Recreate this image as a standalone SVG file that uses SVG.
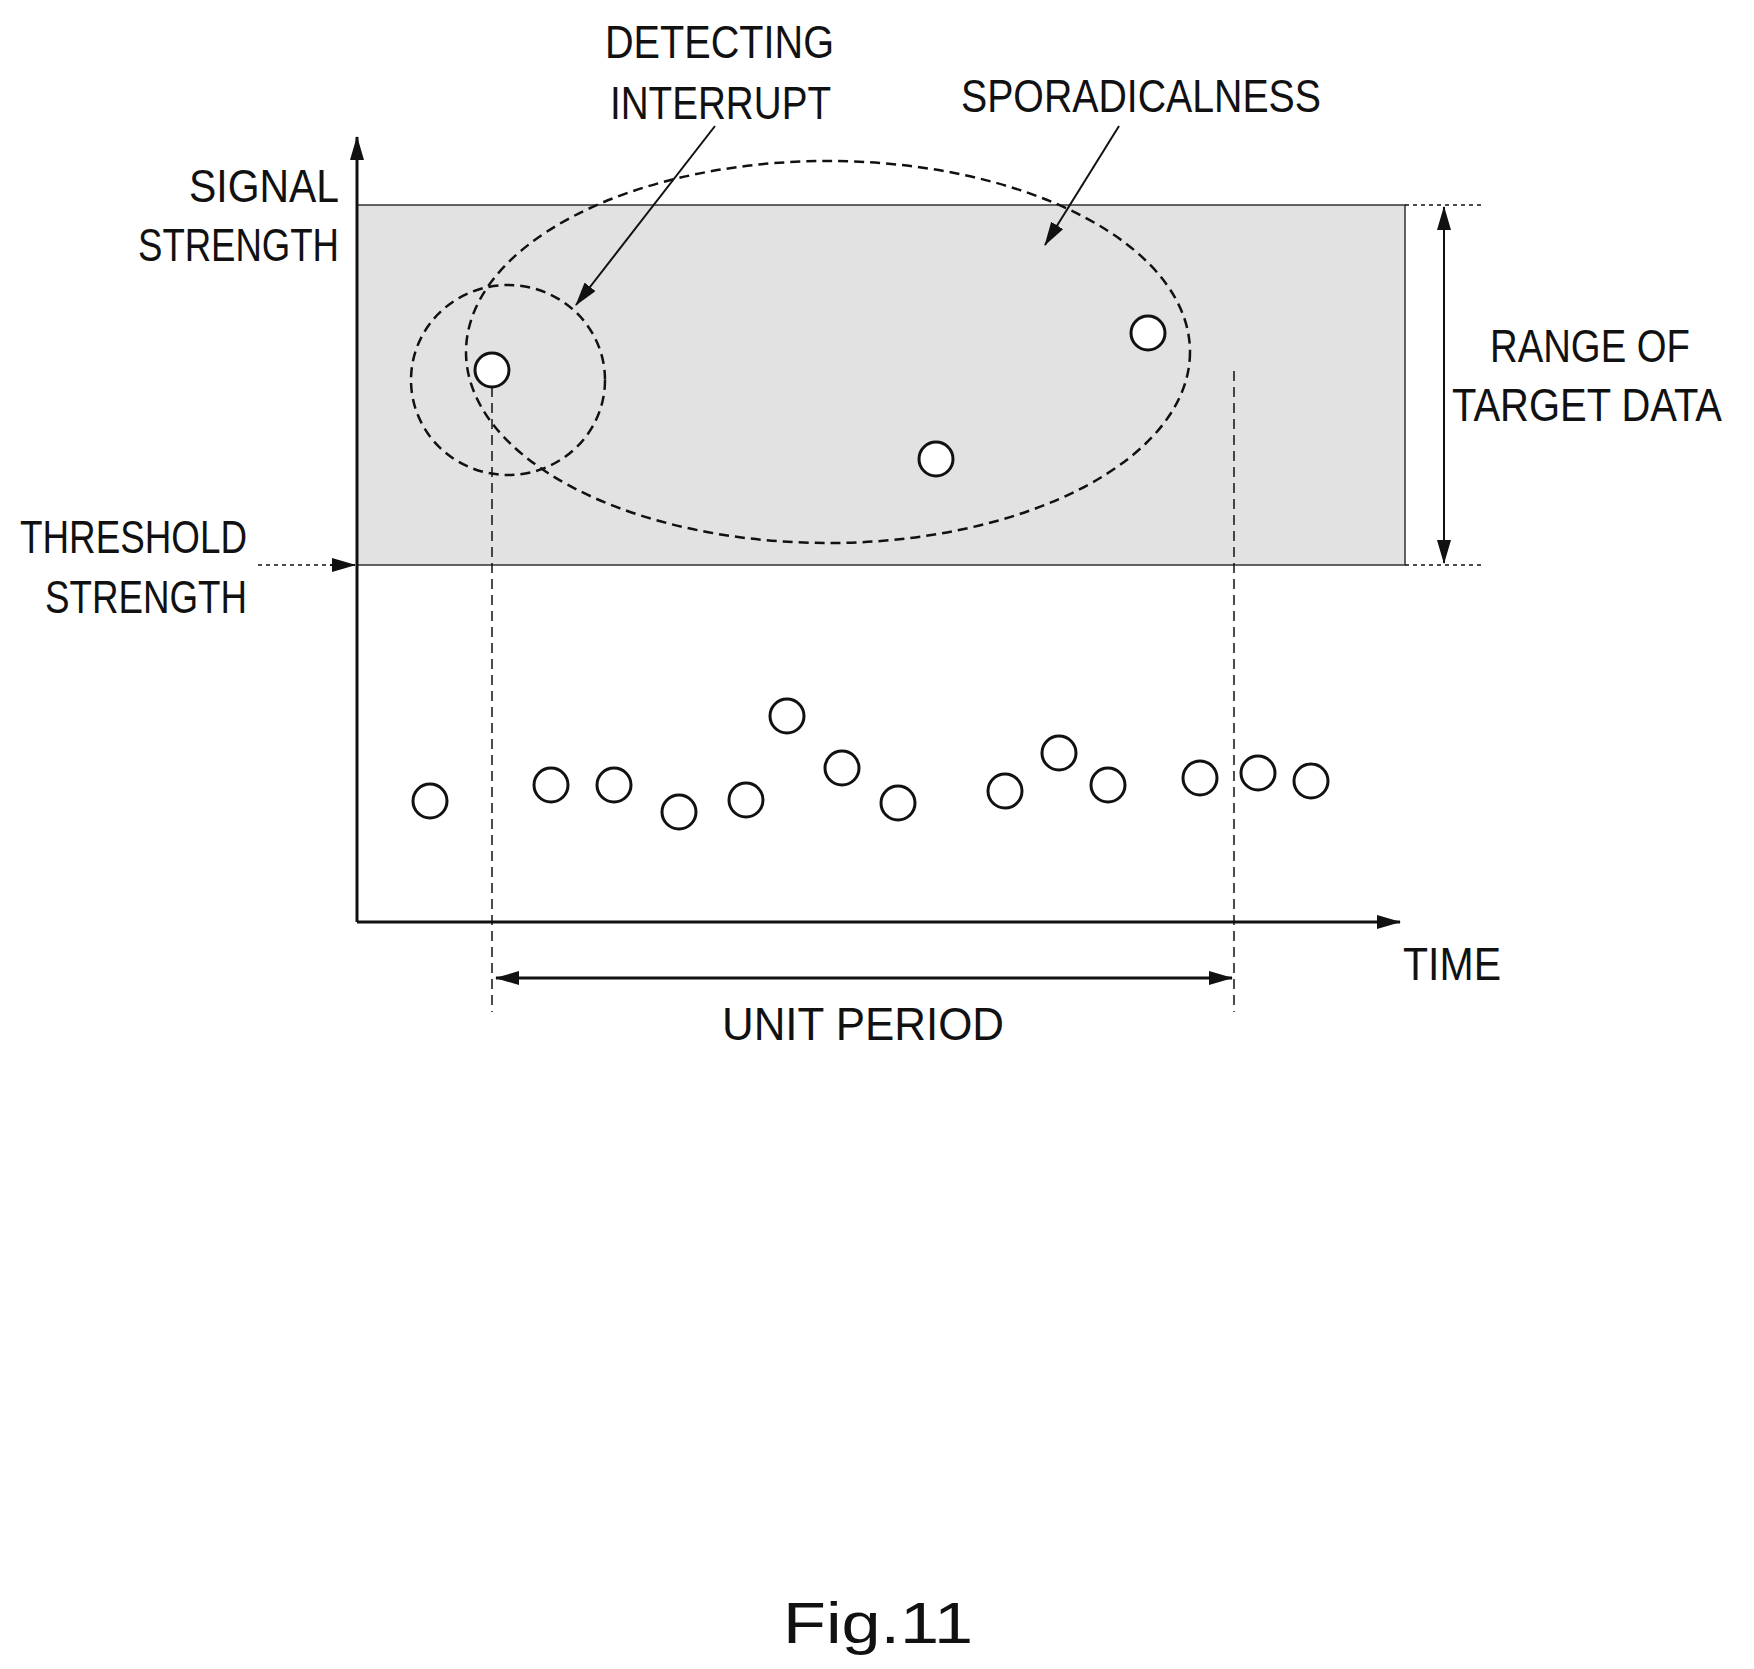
<svg xmlns="http://www.w3.org/2000/svg" width="1754" height="1669" viewBox="0 0 1754 1669">
<style>
text{font-family:"Liberation Sans","DejaVu Sans",sans-serif;font-size:46px;fill:#111}
.ln{stroke:#111;stroke-width:3;fill:none}
.dash{stroke:#111;stroke-width:2;fill:none;stroke-dasharray:10 6}
.dot{stroke:#111;stroke-width:1.5;fill:none;stroke-dasharray:4 4}
.pt{stroke:#111;stroke-width:3;fill:#fff}
</style>
<defs>
<marker id="as" markerWidth="24" markerHeight="14" refX="23" refY="7" orient="auto-start-reverse" markerUnits="userSpaceOnUse" viewBox="0 0 24 14"><path d="M0,0 L24,7 L0,14 z" fill="#111"/></marker>
</defs>
<rect id="range" x="357" y="205" width="1048" height="360" fill="#e2e2e2" stroke="#333" stroke-width="1.5"/>
<g id="connectors">
<line class="ln" x1="357" y1="922" x2="357" y2="137" marker-end="url(#as)"/>
<line class="ln" x1="357" y1="922" x2="1400" y2="922" marker-end="url(#as)"/>
<line class="dot" x1="1405" y1="205" x2="1481" y2="205"/>
<line class="dot" x1="1405" y1="565" x2="1481" y2="565"/>
<line class="ln" x1="1444" y1="207" x2="1444" y2="563" marker-start="url(#as)" marker-end="url(#as)" style="stroke-width:2"/>
<line class="dot" x1="258" y1="565" x2="330" y2="565"/>
<line class="ln" x1="330" y1="565" x2="355" y2="565" marker-end="url(#as)" style="stroke-width:2"/>
<line class="dash" x1="492" y1="371" x2="492" y2="1012" style="stroke-width:1.5"/>
<line class="dash" x1="1234" y1="371" x2="1234" y2="1012" style="stroke-width:1.5"/>
<line class="ln" x1="496" y1="978" x2="1232" y2="978" marker-start="url(#as)" marker-end="url(#as)"/>
<line class="ln" x1="715" y1="126" x2="576" y2="305" marker-end="url(#as)" style="stroke-width:2"/>
<line class="ln" x1="1119" y1="126" x2="1045" y2="245" marker-end="url(#as)" style="stroke-width:2"/>
<ellipse class="dash" cx="828" cy="352" rx="362" ry="191" style="stroke-width:2.5"/>
<ellipse class="dash" cx="508" cy="380" rx="97" ry="95" style="stroke-width:2.5"/>
</g>
<g id="points">
<circle class="pt" cx="492" cy="370" r="17"/><circle class="pt" cx="1148" cy="333" r="17"/><circle class="pt" cx="936" cy="459" r="17"/>
<circle class="pt" cx="430" cy="801" r="17"/><circle class="pt" cx="551" cy="785" r="17"/><circle class="pt" cx="614" cy="785" r="17"/><circle class="pt" cx="679" cy="812" r="17"/><circle class="pt" cx="746" cy="800" r="17"/><circle class="pt" cx="787" cy="716" r="17"/><circle class="pt" cx="842" cy="768" r="17"/><circle class="pt" cx="898" cy="803" r="17"/><circle class="pt" cx="1005" cy="791" r="17"/><circle class="pt" cx="1059" cy="753" r="17"/><circle class="pt" cx="1108" cy="785" r="17"/><circle class="pt" cx="1200" cy="778" r="17"/><circle class="pt" cx="1258" cy="773" r="17"/><circle class="pt" cx="1311" cy="781" r="17"/>
</g>
<g id="labels">
<text x="605" y="58" textLength="229" lengthAdjust="spacingAndGlyphs">DETECTING</text>
<text x="610" y="119" textLength="221" lengthAdjust="spacingAndGlyphs">INTERRUPT</text>
<text x="961" y="112" textLength="360" lengthAdjust="spacingAndGlyphs">SPORADICALNESS</text>
<text x="189" y="202" textLength="150" lengthAdjust="spacingAndGlyphs">SIGNAL</text>
<text x="138" y="261" textLength="201" lengthAdjust="spacingAndGlyphs">STRENGTH</text>
<text x="20" y="553" textLength="227" lengthAdjust="spacingAndGlyphs">THRESHOLD</text>
<text x="45" y="613" textLength="202" lengthAdjust="spacingAndGlyphs">STRENGTH</text>
<text x="1490" y="362" textLength="200" lengthAdjust="spacingAndGlyphs">RANGE OF</text>
<text x="1452" y="421" textLength="270" lengthAdjust="spacingAndGlyphs">TARGET DATA</text>
<text x="1403" y="980" textLength="98" lengthAdjust="spacingAndGlyphs">TIME</text>
<text x="722" y="1040" textLength="282" lengthAdjust="spacingAndGlyphs">UNIT PERIOD</text>
<text x="783" y="1643" style="font-size:58px" textLength="190" lengthAdjust="spacingAndGlyphs">Fig.11</text>
</g>
</svg>
